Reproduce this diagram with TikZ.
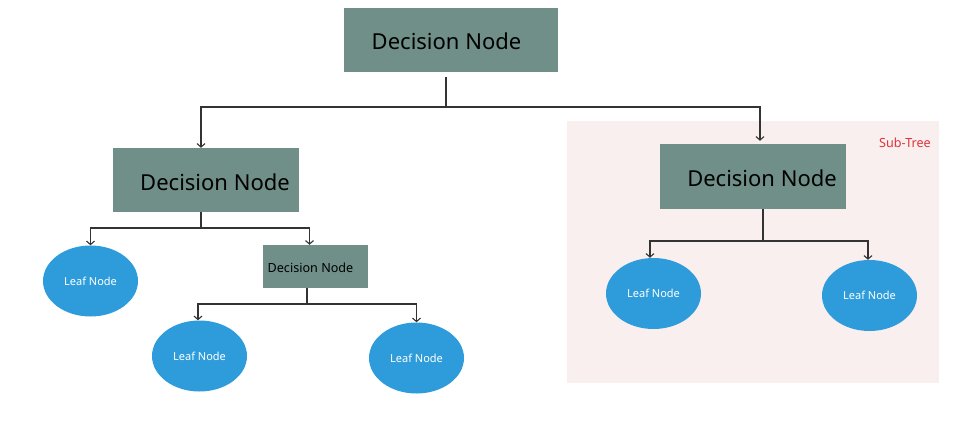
\documentclass[tikz,border=0pt]{standalone}
\usepackage{fontspec}
\setmainfont{Noto Sans}
\usetikzlibrary{shapes.geometric,arrows.meta}
\definecolor{decfill}{HTML}{6F8F88}
\definecolor{leaffill}{HTML}{2E9CDB}
\definecolor{subbg}{HTML}{F8EFEE}
\definecolor{linec}{HTML}{333333}
\definecolor{subred}{HTML}{E0343A}
\tikzset{
  decbox/.style={rectangle, fill=decfill, inner sep=0pt},
  bigtext/.style={font=\fontsize{22}{26}\selectfont, text=black, inner sep=0pt},
  smalltext/.style={font=\fontsize{12.6}{15}\selectfont, text=black, inner sep=0pt},
  leaf/.style={ellipse, fill=leaffill, inner sep=0pt, minimum width=95pt, minimum height=71pt,
    text=white, font=\fontsize{11}{13}\selectfont},
  conn/.style={draw=linec, line width=1.2pt, line join=miter},
  arr/.style={conn, -{Straight Barb[length=3.5pt, width=8pt, line width=1.1pt]}},
}
\begin{document}
\begin{tikzpicture}[x=1pt, y=-1pt]
  \useasboundingbox (0,0) rectangle (959,439);
  \fill[white] (0,0) rectangle (959,439);

  % sub-tree backdrop
  \fill[subbg] (567,121) rectangle (939,383);
  \node[text=subred, font=\fontsize{12.6}{15}\selectfont, inner sep=0pt] (sublbl) at (905,143) {Sub-Tree};

  % decision boxes
  \node[decbox, minimum width=214pt, minimum height=64pt] (d0) at (451,40) {};
  \node[bigtext] (d0t) at (446.5,41) {Decision Node};
  \node[decbox, minimum width=186pt, minimum height=64pt] (d1) at (206,180) {};
  \node[bigtext] (d1t) at (215,182) {Decision Node};
  \node[decbox, minimum width=186pt, minimum height=65pt] (d2) at (753,176.5) {};
  \node[bigtext] (d2t) at (762,178) {Decision Node};
  \node[decbox, minimum width=105pt, minimum height=43pt] (d3) at (315.5,266.5) {};
  \node[smalltext] (d3t) at (310.5,267.5) {Decision Node};

  % leaves
  \node[leaf] (l1) at (90.5,281) {Leaf Node};
  \node[leaf] (l2) at (199.5,356) {Leaf Node};
  \node[leaf] (l3) at (416.5,358) {Leaf Node};
  \node[leaf] (l4) at (653.5,293.5) {Leaf Node};
  \node[leaf] (l5) at (869.5,295.5) {Leaf Node};

  % branch junctions
  \coordinate (j0) at (446,107);
  \coordinate (j1) at (201,228);
  \coordinate (j2) at (763,241);
  \coordinate (j3) at (307,304);

  % root split
  \draw[conn] ([yshift=-5pt]d0.south -| j0) -- (j0);
  \draw[arr] (j0) -| ([xshift=-5pt]d1.north);
  \draw[arr] (j0) -| ([xshift=7pt,yshift=3pt]d2.north);

  % left split
  \draw[conn] (d1.south -| j1) -- (j1);
  \draw[arr] (j1) -| (l1.north);
  \draw[arr] (j1) -| ([xshift=-6pt]d3.north);

  % lower split
  \draw[conn] (d3.south -| j3) -- (j3);
  \draw[arr] (j3) -| ([xshift=-1.5pt]l2.north);
  \draw[arr] (j3) -| (l3.north);

  % sub-tree split
  \draw[conn] (d2.south -| j2) -- (j2);
  \draw[arr] (j2) -| ([xshift=-3.5pt]l4.north);
  \draw[arr] (j2) -| ([xshift=-1.5pt]l5.north);
\end{tikzpicture}
\end{document}
